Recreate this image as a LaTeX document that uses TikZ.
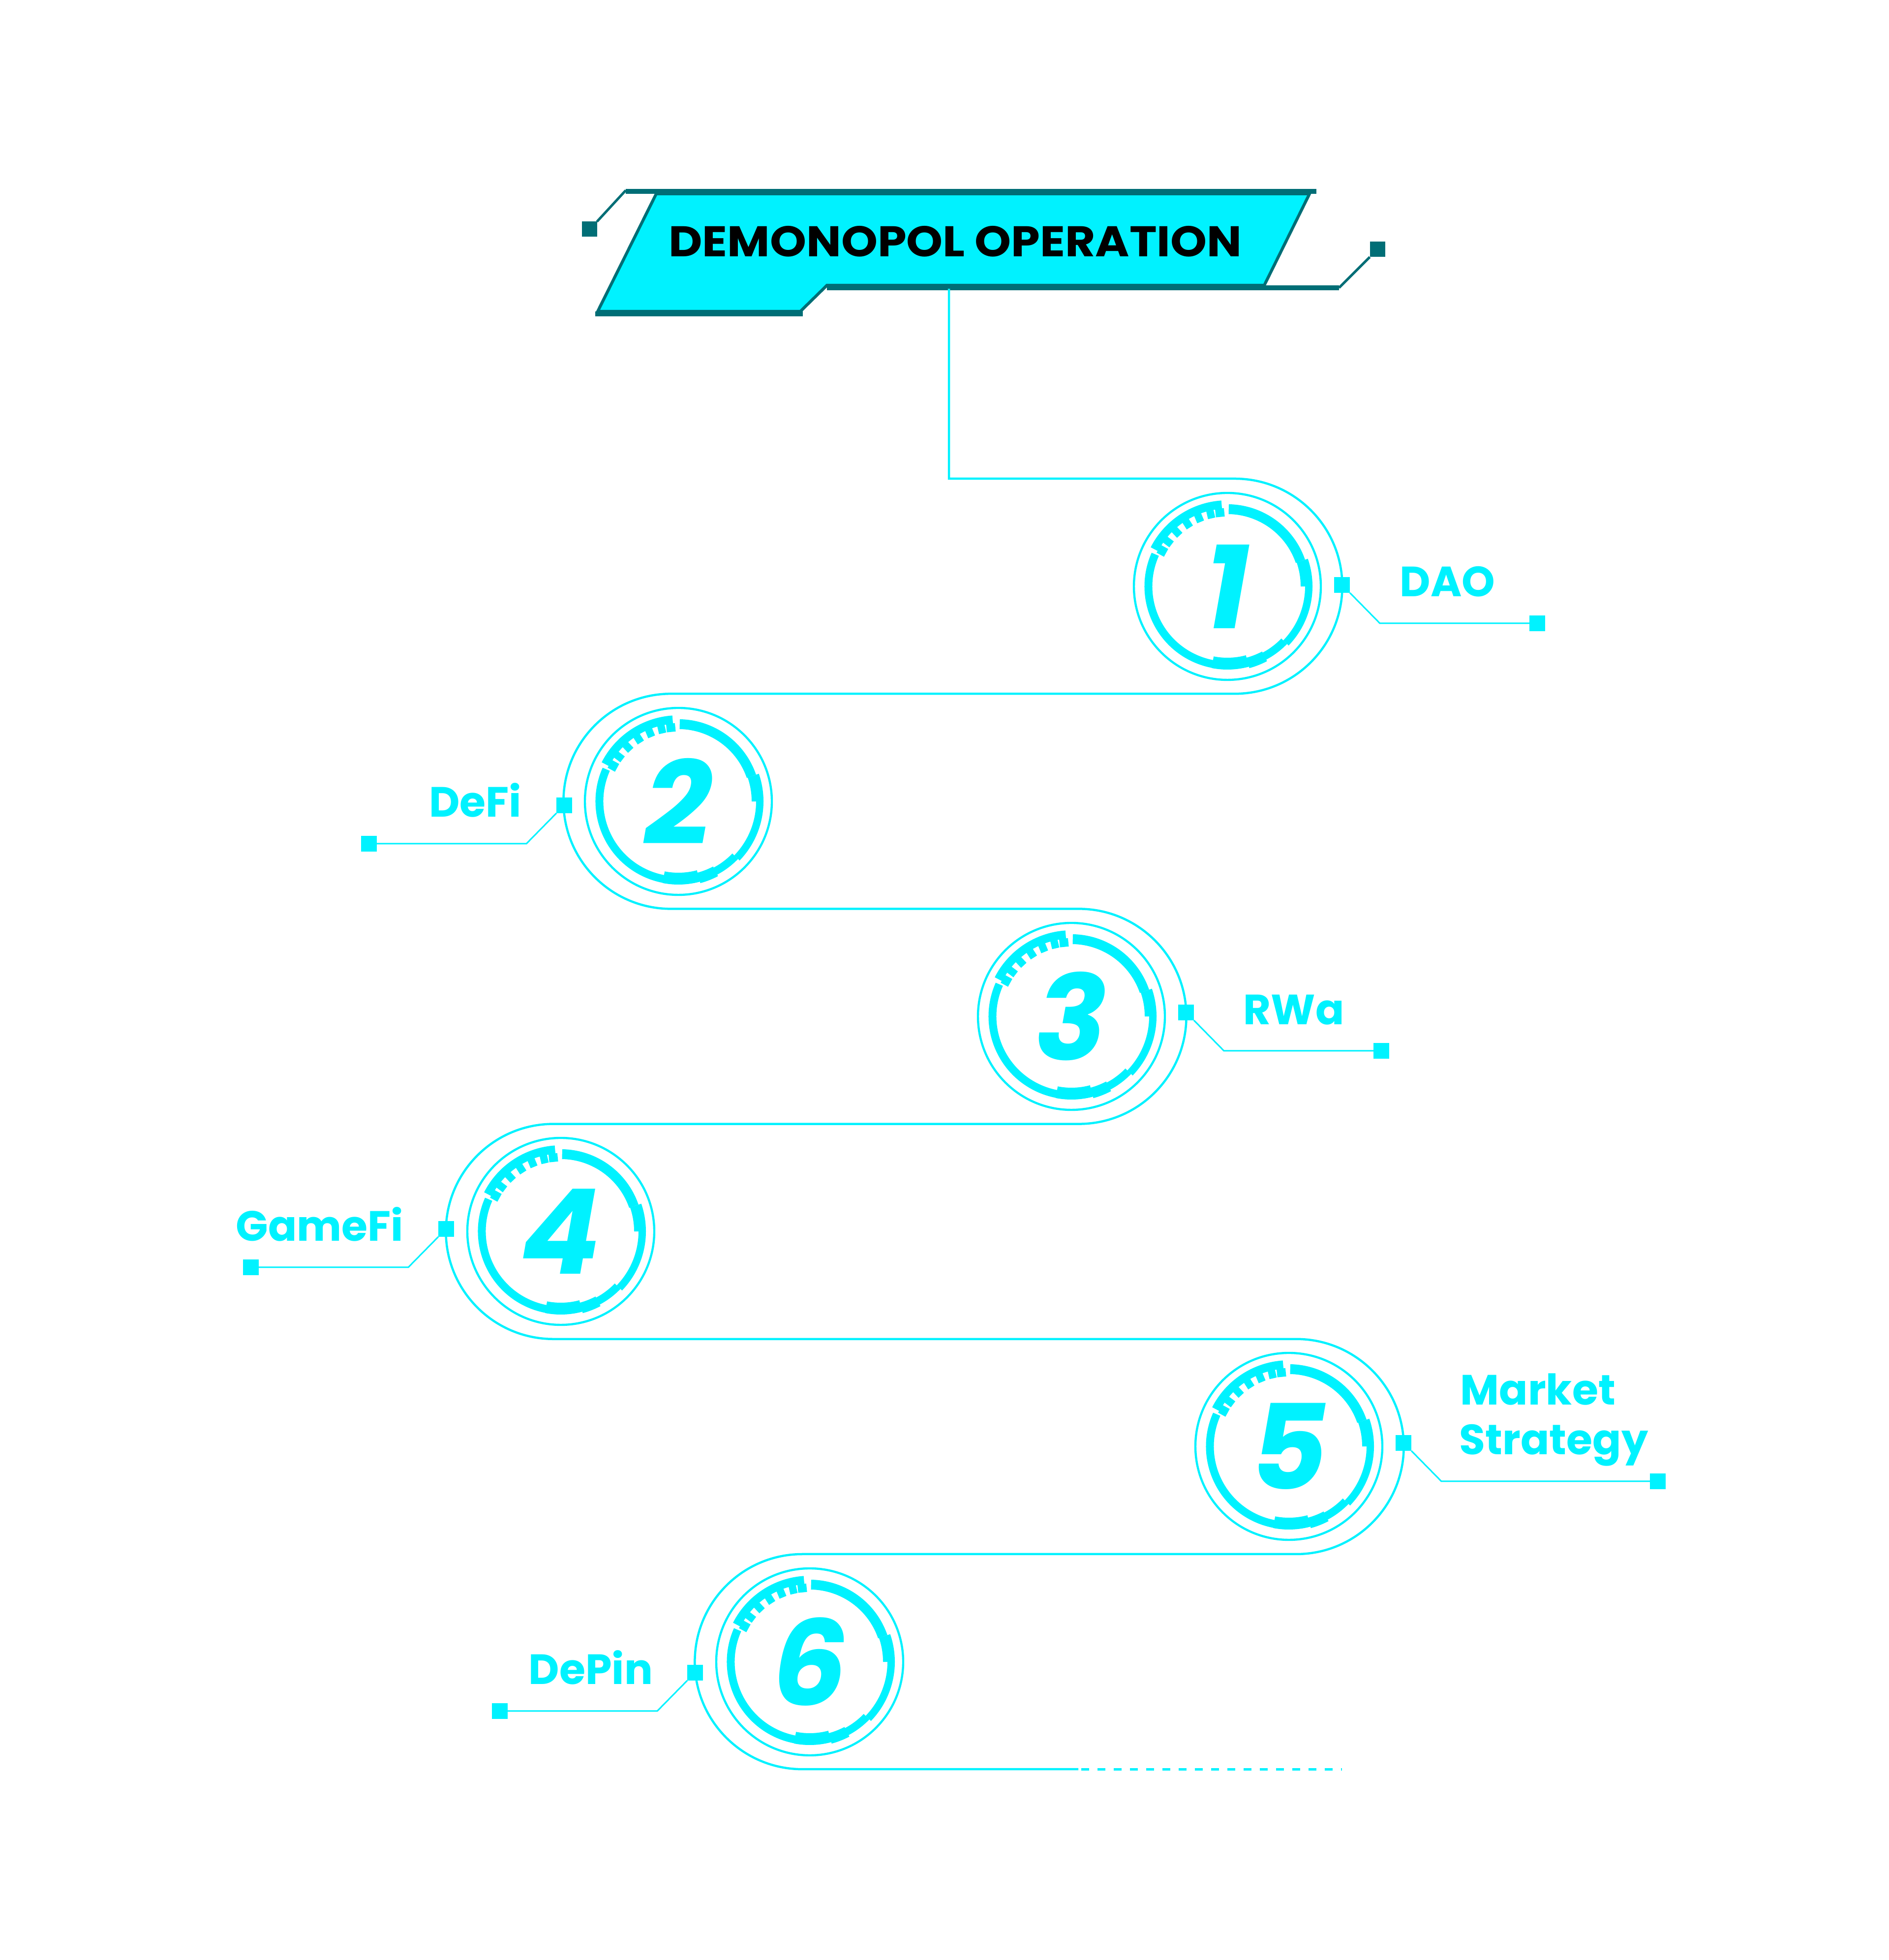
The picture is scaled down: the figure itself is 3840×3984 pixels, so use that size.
\documentclass[tikz,border=0pt]{standalone}
\usepackage{fontspec}
\setmainfont{Poppins}
\definecolor{hudcyan}{RGB}{0,242,255}
\definecolor{hudteal}{RGB}{0,110,118}
\tikzset{
  hud/.pic={
    \draw[hudcyan,line width=1.1pt] (0,0) circle[radius=190];
    % main progress ring, pieces of different width
    \draw[hudcyan,line width=4pt] (156:160.5) arc[start angle=156,end angle=316,radius=160.5];
    \draw[hudcyan,line width=3.75pt] (316:165.5) arc[start angle=316,end angle=360,radius=165.5];
    \draw[hudcyan,line width=6pt] (0:161) arc[start angle=0,end angle=19,radius=161];
    \draw[hudcyan,line width=5pt] (19:157) arc[start angle=19,end angle=89,radius=157];
    \draw[hudcyan,line width=6pt] (259:157) arc[start angle=259,end angle=285,radius=157];
    \draw[hudcyan,line width=5.5pt] (285:161) arc[start angle=285,end angle=298,radius=161];
    % comb at the upper left
    \draw[hudcyan,line width=4.25pt] (94:166.5) arc[start angle=94,end angle=153,radius=166.5];
    \foreach \a in {103,112.5,122.5,133,143}
      \draw[hudcyan,line width=3.75pt] (\a:142) -- (\a:159);
    \foreach \a in {95.8,151.3}
      \draw[hudcyan,line width=4.5pt] (\a:142) -- (\a:159);
  }
}
\begin{document}
\begin{tikzpicture}[x=0.25pt,y=0.25pt,
  pad/.style={fill=hudcyan,minimum size=8pt,inner sep=0pt,outer sep=0pt},
  tpad/.style={fill=hudteal,minimum size=7.75pt,inner sep=0pt,outer sep=0pt},
  lab/.style={text=hudcyan,font=\fontsize{21.5}{26}\selectfont\bfseries,inner sep=0pt},
  num/.style={text=hudcyan,font=\fontsize{60}{60}\selectfont\bfseries\itshape,inner sep=0pt},
  wire/.style={hudcyan,line width=0.75pt},
  track/.style={hudcyan,line width=1.125pt}]
\fill[white] (0,0) rectangle (3840,3984);
\useasboundingbox (0,0) rectangle (3840,3984);

% title plate
\fill[hudcyan] (1334,3590) -- (2662,3590) -- (2570,3404) -- (1681,3404) -- (1627,3351) -- (1215,3351) -- cycle;
\draw[hudteal,line width=1.5pt] (1334,3590) -- (2662,3590) -- (2570,3404) -- (1681,3404) -- (1627,3351) -- (1215,3351) -- cycle;
\draw[hudteal,line width=2.5pt] (1272,3595) -- (2676,3595);
\draw[hudteal,line width=2.5pt] (1681,3399) -- (2722,3399);
\draw[hudteal,line width=2.5pt] (1210,3346) -- (1632,3346);
\node[tpad] (tl) at (1198,3518) {};
\node[tpad] (tr) at (2800,3477) {};
\draw[hudteal,line width=1.25pt] (1272,3597) -- (tl.north east);
\draw[hudteal,line width=1.25pt] (2722,3399) -- (tr.south west);
\node[font=\fontsize{21.8}{26}\selectfont\bfseries\addfontfeature{FakeStretch=1.08},inner sep=0pt,anchor=base] (title) at (1942,3462) {DEMONOPOL OPERATION};
\coordinate (tb) at (1929,3397);

% the track
\draw[track] (tb) -- (1929,3011) -- (2510,3011)
  arc[start angle=90,end angle=-90,radius=218.6] -- (1364,2573.8)
  arc[start angle=90,end angle=270,radius=218.6] -- (2193,2136.6)
  arc[start angle=90,end angle=-90,radius=218.6] -- (1125,1699.4)
  arc[start angle=90,end angle=270,radius=218.6] -- (2635,1262.2)
  arc[start angle=90,end angle=-90,radius=218.6] -- (1631,825)
  arc[start angle=90,end angle=270,radius=218.6] -- (2192,387.8) coordinate (tail);
\coordinate (tailend) at (2728,387.8);
\draw[hudcyan,line width=1.25pt,dash pattern=on 4pt off 4.25pt] ([xshift=1.5pt]tail) -- (tailend);

% steps
\coordinate (c1) at (2495,2792);
\coordinate (c2) at (1379,2355);
\coordinate (c3) at (2178,1918);
\coordinate (c4) at (1140,1481);
\coordinate (c5) at (2620,1044);
\coordinate (c6) at (1646,606);
\foreach \c in {c1,c2,c3,c4,c5,c6}
  \pic at (\c) {hud};
\node[num] (n1) at (c1) {1};
\node[num] (n2) at (c2) {2};
\node[num] (n3) at (c3) {3};
\node[num] (n4) at (c4) {4};
\node[num] (n5) at (c5) {5};
\node[num] (n6) at (c6) {6};

% labels
\node[pad] (s1) at (2728,2795) {};
\node[pad] (s2) at (1147,2347) {};
\node[pad] (s3) at (2411,1926) {};
\node[pad] (s4) at (907,1486) {};
\node[pad] (s5) at (2853,1051) {};
\node[pad] (s6) at (1413,584) {};
\node[pad] (e1) at (3125,2717) {};
\node[pad] (e2) at (750,2269) {};
\node[pad] (e3) at (2808,1848) {};
\node[pad] (e4) at (510,1408) {};
\node[pad] (e5) at (3370,973) {};
\node[pad] (e6) at (1016,506) {};
\coordinate (k1) at (2805,2717);
\coordinate (k2) at (1070,2269);
\coordinate (k3) at (2488,1848);
\coordinate (k4) at (830,1408);
\coordinate (k5) at (2930,973);
\coordinate (k6) at (1336,506);
\draw[wire] (s1.south east) -- (k1) -- (e1);
\draw[wire] (s2.south west) -- (k2) -- (e2);
\draw[wire] (s3.south east) -- (k3) -- (e3);
\draw[wire] (s4.south west) -- (k4) -- (e4);
\draw[wire] (s5.south east) -- (k5) -- (e5);
\draw[wire] (s6.south west) -- (k6) -- (e6);
\node[lab,anchor=base west] (t1) at (2845,2771) {DAO};
\node[lab,anchor=base east] (t2) at (1061,2323) {DeFi};
\node[lab,anchor=base west] (t3) at (2527,1901) {RWa};
\node[lab,anchor=base east] (t4) at (821,1461) {GameFi};
\node[lab,anchor=base west] (t5) at (2968,1128) {Market};
\node[lab,anchor=base west] (t5b) at (2966,1027) {Strategy};
\node[lab,anchor=base east] (t6) at (1328,560) {DePin};
\end{tikzpicture}
\end{document}
